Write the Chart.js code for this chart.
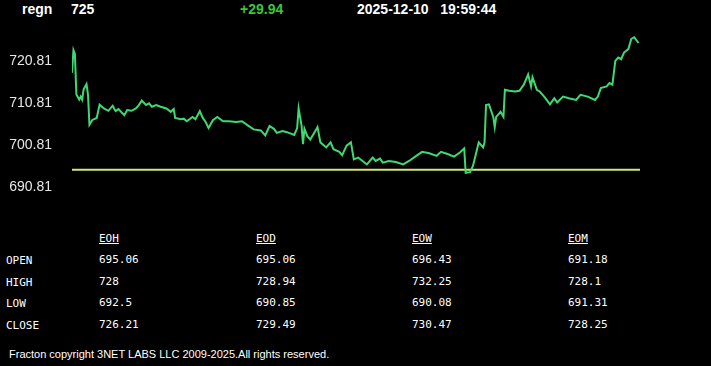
<!DOCTYPE html>
<html>
<head>
<meta charset="utf-8">
<script src="https://cdn.jsdelivr.net/npm/chart.js@4/dist/chart.umd.min.js"></script>
<style>
  body { margin: 0; background: #000; width: 711px; height: 366px; overflow: hidden; position: relative;
         font-family: Arial, "Liberation Sans", sans-serif; color: #fff; }
  .hd { position: absolute; top: 1px; font-weight: bold; font-size: 14px; }
  #chartBox { position: absolute; left: 0; top: 10px; width: 711px; height: 198px; }
  #quotes { position: absolute; left: 0; top: 0; font-family: "DejaVu Sans Mono", monospace; font-size: 11px; }
  #quotes div { position: absolute; white-space: nowrap; }
  .colhead { text-decoration: underline; }
  #foot { position: absolute; left: 9px; top: 348px; font-size: 11px; }
</style>
</head>
<body>
<div class="hd" style="left:22px">regn</div>
<div class="hd" id="last" style="left:71px"></div>
<div class="hd" id="chg" style="left:240px;color:#3ec43e"></div>
<div class="hd" id="stamp" style="left:357px"></div>
<div id="chartBox"><canvas id="regnChart"></canvas></div>
<div id="quotes"></div>
<div id="foot">Fracton copyright 3NET LABS LLC 2009-2025.All rights reserved.</div>
<script>
// header
const symbol = 'regn';
const lastPrice = '725';
const change = '+29.94';
const stamp = '2025-12-10\u00a0\u00a0\u00a019:59:44';

// intraday series (minutes from open, price)
const minutes = [0,1,2,3,5,6,7,8,10,11,12,14,17,19,22,25,28,30,32,36,38,41,44,46,48,51,53,55,58,61,
  65,68,70,71,75,77,79,83,85,88,90,92,94,97,100,104,108,113,117,121,125,130,133,136,139,141,145,148,153,155,
  156,158,159,160,162,164,167,169,171,175,178,180,184,186,189,192,194,197,200,203,207,209,212,214,218,223,228,232,237,241,
  246,251,254,259,263,267,270,271,274,276,278,280,283,284,285,287,290,291,292,294,295,297,298,301,305,308,311,314,316,317,
  320,322,324,326,329,332,334,338,342,347,350,355,360,362,364,368,370,372,374,376,378,380,383,385,387,390];
const prices = [718.10,723.52,722.62,712.95,711.74,712.46,711.74,714.16,715.44,712.95,705.76,706.90,707.38,710.53,709.63,709.08,710.29,709.00,709.49,708.03,
  709.24,709.08,709.63,710.45,711.49,710.45,710.84,710.04,710.45,710.04,709.63,708.83,709.49,707.38,707.07,707.21,706.58,707.62,707.07,709.00,
  707.38,706.41,704.96,706.82,707.62,706.58,706.58,706.41,706.58,705.62,704.65,704.41,703.20,705.45,704.79,703.82,704.24,703.99,703.34,704.96,
  709.63,705.62,701.16,704.79,703.03,702.23,703.99,705.20,701.57,700.36,701.57,699.95,699.32,698.50,700.78,701.57,697.53,697.95,697.15,696.32,
  697.95,697.15,697.70,696.74,697.15,696.91,696.32,697.15,698.36,699.32,698.99,698.36,699.32,698.74,698.19,699.16,700.12,694.32,694.49,695.94,
  698.74,701.57,700.36,701.57,710.45,710.60,707.62,705.20,707.62,708.42,708.83,707.62,714.08,713.84,713.67,713.84,715.29,717.71,714.88,717.06,
  714.08,713.67,712.87,712.05,710.60,712.05,711.08,712.46,712.05,711.66,712.87,712.46,711.66,712.46,714.47,714.88,715.68,715.29,720.93,721.73,
  721.34,722.94,723.76,726.18,726.57,725.20];
const openPrice = 695.06;
const yTicks = [690.81, 700.81, 710.81, 720.81];

// summary table
const periods = ['EOH', 'EOD', 'EOW', 'EOM'];
const fields = ['OPEN', 'HIGH', 'LOW', 'CLOSE'];
const eoh = ['695.06', '728', '692.5', '726.21'];
const eod = ['695.06', '728.94', '690.85', '729.49'];
const eow = ['696.43', '732.25', '690.08', '730.47'];
const eom = ['691.18', '728.1', '691.31', '728.25'];

document.getElementById('last').textContent = lastPrice;
document.getElementById('chg').textContent = change;
document.getElementById('stamp').textContent = stamp;

const q = document.getElementById('quotes');
const colX = [99, 256, 412, 568];
const rowY = [253, 275, 296, 318];
const cols = [eoh, eod, eow, eom];
function cell(txt, x, y, cls) {
  const d = document.createElement('div');
  d.textContent = txt; d.style.left = x + 'px'; d.style.top = y + 'px';
  if (cls) d.className = cls;
  q.appendChild(d);
}
periods.forEach((p, i) => cell(p, colX[i], 232, 'colhead'));
fields.forEach((f, r) => {
  cell(f, 6, rowY[r] + 1);
  cols.forEach((c, i) => cell(c[r], colX[i], rowY[r]));
});

const ctx = document.getElementById('regnChart').getContext('2d');
const chart = new Chart(ctx, {
  type: 'line',
  data: {
    datasets: [{
      label: symbol,
      data: minutes.map((m, i) => ({ x: m, y: prices[i] })),
      borderColor: '#3fd873',
      borderWidth: 2,
      pointRadius: 0,
      tension: 0
    }, {
      label: 'open',
      data: [{ x: 0, y: openPrice }, { x: 391, y: openPrice }],
      borderColor: '#cfe67a',
      borderWidth: 2,
      pointRadius: 0
    }]
  },
  options: {
    responsive: true,
    maintainAspectRatio: false,
    animation: false,
    layout: { padding: { top: 10, bottom: 10, right: 71, left: 0 } },
    plugins: { legend: { display: false }, tooltip: { enabled: false } },
    scales: {
      x: { type: 'linear', min: 0, max: 391, display: false },
      y: {
        min: 690.81, max: 728.2,
        grid: { display: false }, border: { display: false },
        afterBuildTicks: s => { s.ticks = yTicks.map(v => ({ value: v })); },
        afterFit: s => { s.width = 72; },
        ticks: {
          color: '#e6e6e6', padding: 12,
          font: { family: 'Arial', size: 14 },
          callback: v => v.toFixed(2)
        }
      }
    }
  }
});
</script>
</body>
</html>
